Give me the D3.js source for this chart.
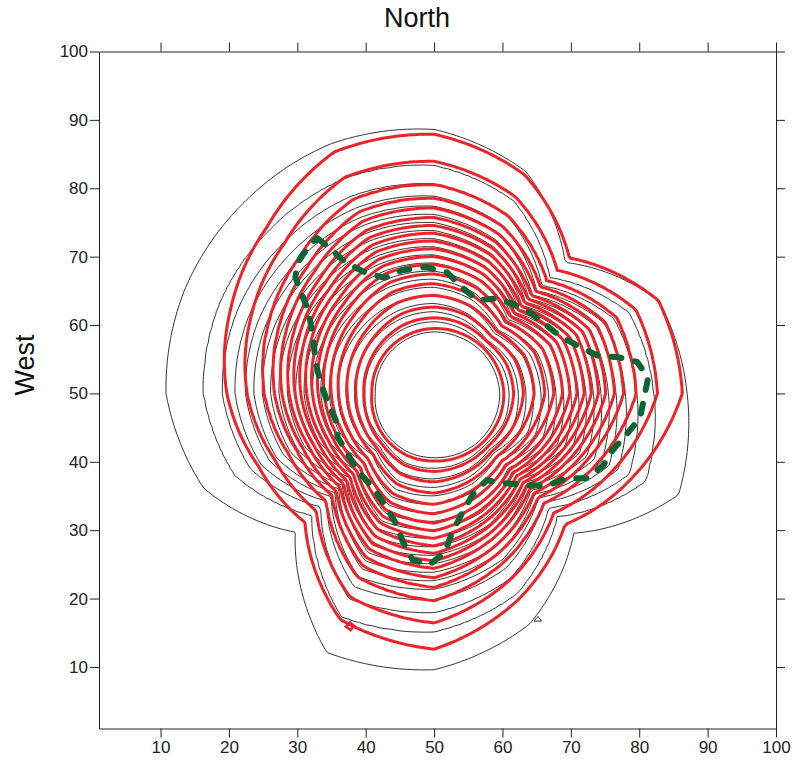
<!DOCTYPE html>
<html>
<head>
<meta charset="utf-8">
<style>
  body { margin: 0; background: #fff; }
  svg { font-family: 'Liberation Sans', Arial, sans-serif; }
  .axis path, .axis line { stroke: #222; }
  .axis text { font-size: 17px; fill: #222; }
</style>
</head>
<body>
<svg width="792" height="766"></svg>
<script src="https://d3js.org/d3.v7.min.js"></script>
<script>
// tick labels (both axes)
const ticks = [10, 20, 30, 40, 50, 60, 70, 80, 90, 100];

// contour shapes: radius (data units) from the centre (50,50)
// at 16 directions, 0 = east, counter-clockwise
const angles = [0, 22.5, 45, 67.5, 90, 112.5, 135, 157.5, 180, 202.5, 225, 247.5, 270, 292.5, 315, 337.5];
const redOuter   = [36.3, 35.5, 28.0, 34.6, 37.9, 38.2, 34.5, 32.2, 30.3, 27.8, 26.7, 35.8, 37.4, 32.5, 27.1, 31.6];
const redInner   = [10.2, 10.0, 9.8, 9.6, 9.5, 9.4, 9.3, 9.2, 9.1, 9.4, 9.7, 9.9, 9.9, 10.0, 10.1, 10.2];
const blackOuter = [37.0, 35.5, 27.1, 35.1, 38.6, 39.5, 39.4, 39.5, 39.2, 36.4, 28.7, 41.0, 40.4, 36.5, 28.9, 38.7];
const blackInner = [9.6, 9.4, 9.2, 9.0, 9.0, 8.9, 8.8, 8.7, 8.6, 8.9, 9.2, 9.4, 9.4, 9.5, 9.6, 9.6];

// where each contour level sits between outer (0) and inner (1) boundary
const redLevels   = [0, 0.14, 0.26, 0.33, 0.38, 0.43, 0.47, 0.51, 0.55, 0.59, 0.63, 0.67, 0.72, 0.77, 0.83, 0.89, 0.945, 1];
const blackLevels = [0, 0.18, 0.27, 0.33, 0.38, 0.42, 0.46, 0.50, 0.54, 0.58, 0.62, 0.66, 0.70, 0.74, 0.78, 0.82, 0.86, 0.90, 0.95, 1];

// green dashed contour
const greenLine = [
  [32.9, 72.7], [34.8, 71.2], [37.0, 69.2], [39.9, 67.7], [42.8, 66.9], [45.3, 68.0], [48.7, 68.5],
  [51.9, 67.7], [54.1, 65.5], [56.4, 63.6], [59.2, 63.9], [61.4, 63.1], [64.0, 61.9], [66.2, 60.1],
  [68.7, 58.2], [71.3, 56.8], [74.0, 55.5], [76.9, 55.3], [79.7, 54.6], [81.3, 52.3], [80.7, 49.3],
  [80.1, 46.4], [78.2, 44.1], [76.1, 41.7], [74.7, 39.4], [72.3, 37.6], [69.4, 37.6], [66.5, 36.5],
  [63.6, 36.6], [60.1, 36.9], [57.7, 37.3], [55.7, 35.3], [54.1, 32.5], [52.6, 29.6], [51.6, 26.8],
  [49.4, 25.0], [46.9, 25.6], [45.4, 28.4], [44.3, 31.2], [42.8, 33.7], [41.1, 36.2], [38.7, 38.8],
  [37.3, 41.3], [35.9, 43.6], [35.6, 46.1], [34.3, 49.0], [33.3, 52.0], [32.7, 54.4], [32.3, 58.2],
  [31.6, 62.2], [30.8, 64.1], [29.7, 67.0], [30.1, 69.2], [31.8, 71.7]
];

// two tiny closed islands
const redIsland = [[37.1, 15.9], [37.7, 16.5], [38.3, 16.0], [37.8, 15.4]];
const blackIsland = [[64.6, 16.7], [65.2, 17.4], [65.7, 16.7]];

const svg = d3.select("svg");
const x = d3.scaleLinear().domain([1, 100]).range([99, 776]);
const y = d3.scaleLinear().domain([1, 100]).range([728.5, 51.5]);

// grid for d3.contours
const cx = 50, cy = 50, step = 0.5, nx = 201, ny = 201;

function radiusAt(profile, deg) {
  let p = deg / 22.5, i = Math.floor(p) % 16, f = p - Math.floor(p);
  return profile[i] * (1 - f) + profile[(i + 1) % 16] * f;
}

function levelValue(t, fr) {
  const n = fr.length;
  if (t < fr[0]) return (t - fr[0]) / (fr[1] - fr[0]);
  if (t >= fr[n - 1]) return n - 1 + (t - fr[n - 1]) / (fr[n - 1] - fr[n - 2]);
  let k = d3.bisectRight(fr, t) - 1;
  return k + (t - fr[k]) / (fr[k + 1] - fr[k]);
}

function buildGrid(outer, inner, fr) {
  const vals = new Float64Array(nx * ny);
  for (let j = 0; j < ny; j++) {
    for (let i = 0; i < nx; i++) {
      let dx = i * step - cx, dy = j * step - cy;
      let r = Math.hypot(dx, dy);
      let deg = (Math.atan2(dy, dx) * 180 / Math.PI + 360) % 360;
      let ro = radiusAt(outer, deg), ri = radiusAt(inner, deg);
      vals[j * nx + i] = levelValue((ro - r) / (ro - ri), fr);
    }
  }
  return vals;
}

const gridPath = d3.geoPath(d3.geoTransform({
  point: function(px, py) {
    this.stream.point(x((px - 0.5) * step), y((py - 0.5) * step));
  }
}));

function drawContours(outer, inner, fr, cls, color, width) {
  let vals = buildGrid(outer, inner, fr);
  let contours = d3.contours().size([nx, ny]).thresholds(d3.range(fr.length))(vals);
  svg.append("g")
    .attr("class", cls)
    .selectAll("path")
    .data(contours)
    .join("path")
    .attr("d", gridPath)
    .attr("fill", "none")
    .attr("stroke", color)
    .attr("stroke-width", width)
    .attr("stroke-linejoin", "round");
}

drawContours(blackOuter, blackInner, blackLevels, "black-contours", "#1a1a1a", 0.9);
drawContours(redOuter, redInner, redLevels, "red-contours", "#ee2329", 3);

let closed = d3.line().x(d => x(d[0])).y(d => y(d[1])).curve(d3.curveLinearClosed);

svg.append("path")
  .attr("d", closed(blackIsland))
  .attr("fill", "none").attr("stroke", "#1a1a1a").attr("stroke-width", 0.9);

svg.append("path")
  .attr("d", closed(redIsland))
  .attr("fill", "none").attr("stroke", "#ee2329").attr("stroke-width", 2.5);

svg.append("path")
  .attr("d", closed(greenLine))
  .attr("fill", "none")
  .attr("stroke", "#0b6534")
  .attr("stroke-width", 6)
  .attr("stroke-linecap", "round")
  .attr("stroke-linejoin", "round")
  .attr("stroke-dasharray", "10,14");

// axes on all four sides, labels only bottom and left
svg.append("g").attr("class", "axis")
  .attr("transform", `translate(0,${y(1)})`)
  .call(d3.axisBottom(x).tickValues(ticks).tickSize(9).tickSizeOuter(0).tickPadding(3));
svg.append("g").attr("class", "axis")
  .attr("transform", `translate(0,${y(100)})`)
  .call(d3.axisTop(x).tickValues(ticks).tickSize(9).tickSizeOuter(0).tickFormat(""));
svg.append("g").attr("class", "axis")
  .attr("transform", `translate(${x(1)},0)`)
  .call(d3.axisLeft(y).tickValues(ticks).tickSize(9).tickSizeOuter(0).tickPadding(2));
svg.append("g").attr("class", "axis")
  .attr("transform", `translate(${x(100)},0)`)
  .call(d3.axisRight(y).tickValues(ticks).tickSize(9).tickSizeOuter(0).tickFormat(""));

svg.selectAll(".axis text").style("font-family", "'Liberation Sans', Arial, sans-serif");

svg.append("text")
  .attr("x", 417).attr("y", 27)
  .attr("text-anchor", "middle")
  .style("font-size", "27px").style("fill", "#111")
  .text("North");

svg.append("text")
  .attr("transform", "translate(34,365) rotate(-90)")
  .attr("text-anchor", "middle")
  .style("font-size", "27px").style("fill", "#111")
  .text("West");
</script>
</body>
</html>
